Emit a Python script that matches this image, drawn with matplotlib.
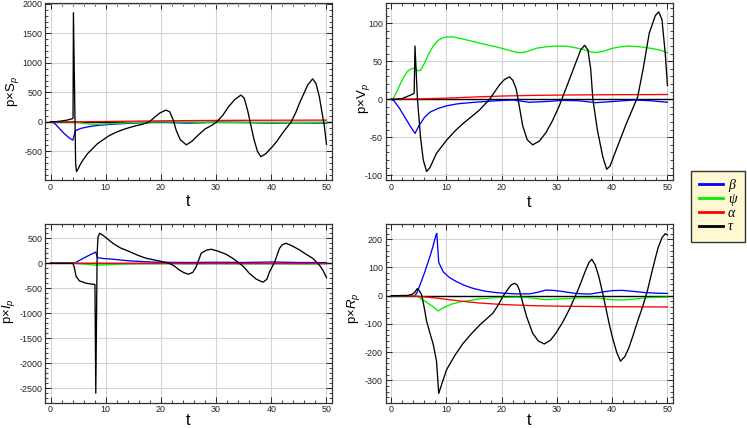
import numpy as np
import matplotlib
matplotlib.use("Agg")
import matplotlib.pyplot as plt
from matplotlib.ticker import MultipleLocator
from matplotlib.lines import Line2D
from matplotlib.font_manager import FontProperties

# ------------------------------------------------------------------
# data, (t, value) pairs
# ------------------------------------------------------------------
# p x S_p
S_BETA = [(0, 0), (0.4, 0), (1.0, -50), (1.6, -110), (2.5, -200), (3.3, -265), (4.04, -310),
          (4.5, -150), (5.5, -110), (7, -80), (9, -55), (12, -35), (16, -15), (20, -5),
          (25, -20), (30, -5), (35, -10), (40, -20), (45, -15), (50, -20)]
S_PSI = [(0, 0), (4.4, 0), (6, -25), (8, -45), (10, -35), (13, -20), (17, -5), (20, 0),
         (25, -5), (30, -8), (40, -12), (50, -10)]
S_ALPHA = [(0, 0), (5, 1), (10, 6), (20, 18), (30, 25), (40, 28), (50, 30)]
S_TAU = [(0, 0), (1, 5), (2, 15), (3, 30), (4.0, 55), (4.08, 65), (4.15, 1850), (4.55, -700),
         (4.7, -842), (5.0, -800), (5.4, -720), (5.9, -644), (6.7, -540), (7.7, -446),
         (8.5, -370), (9.5, -305), (10.6, -235), (11.9, -175), (13, -135), (14.3, -96),
         (15.5, -65), (16.7, -40), (17.9, 0), (19.0, 90), (19.8, 150), (20.9, 200), (21.6, 170),
         (22.2, 40), (22.8, -150), (23.5, -300), (24.6, -390), (25.6, -330), (26.8, -220),
         (28.0, -120), (29.2, -60), (30.1, 0), (31.2, 110), (32.2, 250), (33.4, 380),
         (34.5, 455), (35.1, 400), (35.7, 200), (36.3, -60), (36.9, -310), (37.5, -500),
         (38.1, -590), (39.0, -540), (40.2, -420), (41.0, -330), (42, -195), (43.6, 0),
         (44.4, 150), (45.1, 315), (45.9, 480), (46.6, 625), (47.5, 730), (48.1, 650),
         (48.7, 430), (49.2, 150), (49.6, -60), (50, -380)]

# p x V_p
V_BETA = [(0, 0), (0.5, -2), (1.5, -12), (2.5, -24), (3.5, -36), (4.3, -45), (5, -35),
          (6, -24), (7, -17), (8.5, -12), (10, -8.7), (12, -6), (15, -4), (19, -2), (22, -1),
          (25, -4), (28, -3), (31, -1.5), (34, -2), (37, -4.5), (40, -3), (44, -1), (47, -2),
          (50, -4)]
V_PSI = [(0, 0), (0.3, 0), (1, 10), (1.7, 21), (2.4, 31), (3, 37), (3.6, 40), (4.3, 41),
         (4.8, 37.5), (5.3, 38), (6, 47), (6.8, 60), (7.6, 70), (8.4, 77), (9.2, 80.5),
         (10, 82), (11.2, 82), (12.5, 80), (14.8, 76), (17, 72), (19, 69), (21, 65),
         (22.5, 62), (23.5, 61), (24.5, 62.5), (26.2, 67), (28, 69), (30, 70), (32, 69.5),
         (34.6, 66), (36, 62.5), (37, 61.5), (38.3, 63), (40, 67), (41.5, 69), (43, 70),
         (45, 69), (47, 67), (48.5, 65), (50, 61)]
V_ALPHA = [(0, 0), (5, 0.5), (10, 1.5), (15, 3), (20, 4.2), (25, 5), (30, 5.5), (40, 6),
           (50, 6.2)]
V_TAU = [(0, 0), (1, 0), (2, 1), (3, 4), (4.0, 7), (4.15, 8), (4.3, 70), (4.75, 0),
         (5.3, -50), (5.8, -80), (6.4, -95), (7, -90), (8.2, -71), (10, -54), (11.5, -42),
         (13, -32), (14.5, -23), (16, -14), (17.8, 0), (19.6, 19), (20.5, 26), (21.4, 29.5),
         (22, 25), (22.6, 14), (23.2, -10), (23.8, -35), (24.6, -53), (25.6, -60),
         (26.8, -55), (28, -44), (29.2, -28), (30.4, -9), (31.3, 8), (32.2, 25), (33.4, 48),
         (34.3, 65), (35, 71), (35.6, 65), (36.1, 40), (36.5, 0), (37.3, -40), (38.3, -76),
         (39, -92), (39.6, -88), (40.8, -65), (42.5, -33), (44.6, 3), (45.6, 40), (46.7, 87),
         (47.8, 110), (48.4, 115), (49, 105), (49.6, 60), (50, 18)]

# p x I_p
I_BETA = [(0, 0), (4.3, 0), (5.2, 55), (6.2, 113), (7.1, 165), (8.0, 213), (8.2, 222),
          (8.5, 113), (9.5, 95), (11.3, 80), (14.3, 47), (19, 20), (25, 15), (30, 20),
          (35, 15), (40, 25), (45, 15), (50, 12)]
I_PSI = [(0, 0), (4.3, 0), (6, -15), (8.3, -40), (10, -30), (13, -18), (17, -8), (21, -3),
         (25, -10), (30, -5), (35, -10), (40, -5), (45, -12), (50, -8)]
I_ALPHA = [(0, 0), (10, -2), (20, -5), (30, -6), (50, -7)]
I_TAU = [(0, 0), (4.05, 0), (4.3, -80), (4.65, -267), (5.25, -354), (6.46, -400),
         (7.67, -420), (8.05, -425), (8.2, -2600), (8.45, 200), (8.6, 520), (8.9, 600),
         (9.5, 560), (11.3, 400), (12.6, 310), (14.3, 233), (15.8, 160), (17.3, 100),
         (19.7, 46), (21.5, 0), (22.5, -60), (23.3, -133), (24.2, -190), (25, -220),
         (25.8, -180), (26.4, -67), (26.9, 80), (27.3, 200), (28.2, 260), (29.1, 280),
         (30.4, 240), (31.8, 180), (33, 100), (34.2, 0), (35, -70), (36, -200), (37.3, -320),
         (38.5, -380), (39.2, -320), (39.7, -167), (40.6, 20), (41.1, 180), (41.5, 300),
         (42, 370), (42.7, 400), (43.9, 340), (45.1, 267), (46.3, 180), (47.5, 100),
         (48.7, -33), (49.4, -150), (50, -287)]

# p x R_p
R_BETA = [(0, 0), (4.2, 0), (4.6, 8), (5.2, 38), (6, 80), (7, 138), (7.6, 178), (8.1, 215),
          (8.25, 221), (8.6, 118), (9.4, 85), (10.5, 65), (11.8, 50), (13.2, 37), (14.8, 26),
          (17, 16), (19, 11), (21, 8), (22.6, 6.5), (25, 6.5), (26.5, 12), (28, 20),
          (29.3, 19), (31, 15), (33, 9), (34.6, 6.5), (36, 6), (37, 9), (38.5, 14), (40, 18),
          (41.8, 19), (44, 15), (46, 11), (48, 9), (50, 8)]
R_PSI = [(0, 0), (4.5, 0), (6, -18), (7.5, -38), (8.5, -54), (9.5, -42), (10.9, -30),
         (12.5, -22), (13.9, -18), (16, -11), (19, -7), (22.6, -5), (25, -7), (28, -14),
         (31, -11), (34.6, -7), (37, -8), (40, -14), (42, -15), (44, -12), (46, -7), (50, -5)]
R_ALPHA = [(0, 0), (4, -1), (6, -4), (8, -8), (10, -13), (13, -20), (16, -26), (20, -31),
           (25, -35), (30, -37), (35, -38), (40, -39), (50, -40)]
R_TAU = [(0, 0), (3, 1), (3.8, 5), (4.3, 13), (4.7, 25), (5.0, 20), (5.5, 4), (6, -45),
         (6.4, -90), (7, -132), (7.6, -172), (8.2, -232), (8.4, -290), (8.6, -346),
         (9.2, -310), (10, -263), (11.5, -212), (13, -169), (14.5, -135), (16, -104),
         (17.2, -83), (18.4, -62), (19.3, -35), (20.2, -3), (21, 20), (21.7, 38), (22.3, 44),
         (22.8, 38), (23.2, 20), (23.8, -25), (24.5, -74), (25.6, -133), (26.6, -160),
         (27.7, -171), (28.8, -158), (29.8, -133), (31, -95), (32.2, -50), (33, -15),
         (33.8, 20), (34.5, 55), (35.2, 91), (35.8, 118), (36.3, 129), (36.9, 110),
         (37.6, 66), (38.2, 15), (38.8, -39), (39.4, -95), (40, -145), (40.8, -200),
         (41.5, -232), (42.3, -215), (43, -185), (43.7, -145), (44.6, -90), (45.5, -39),
         (46.4, 20), (47, 70), (47.7, 125), (48.3, 170), (49, 205), (49.6, 220), (50, 215)]

LEGEND_LABELS = ["β", "ψ", "α", "τ"]
COLORS = ["#0000ff", "#00ee00", "#ff0000", "#000000"]

# ------------------------------------------------------------------
plt.rcParams['font.family'] = ['Liberation Sans', 'DejaVu Sans']
plt.rcParams['mathtext.fontset'] = 'custom'
plt.rcParams['mathtext.rm'] = 'Liberation Sans'
plt.rcParams['mathtext.it'] = 'Liberation Sans:italic'
plt.rcParams['axes.unicode_minus'] = False

W, H = 747, 428
fig = plt.figure(figsize=(W / 100, H / 100), dpi=100)


def frac(x0, y0, x1, y1):
    return [x0 / W, 1 - y1 / H, (x1 - x0) / W, (y1 - y0) / H]


panels = [
    dict(rect=frac(45, 3, 332, 180), data=(S_BETA, S_PSI, S_ALPHA, S_TAU),
         ylim=(-985, 2015), major=500, minor=100, label=r'p×$\mathregular{S}_{p}$',
         ylab=(-0.084, 0.5), xlab=-0.08),
    dict(rect=frac(385.7, 2.7, 673, 180.3), data=(V_BETA, V_PSI, V_ALPHA, V_TAU),
         ylim=(-106.6, 127), major=50, minor=10, label=r'p×$\mathregular{V}_{p}$',
         ylab=(-0.048, 0.46), xlab=-0.08),
    dict(rect=frac(45, 224, 332, 402.7), data=(I_BETA, I_PSI, I_ALPHA, I_TAU),
         ylim=(-2790, 785), major=500, minor=100, label=r'p×$I_{p}$',
         ylab=(-0.098, 0.51), xlab=-0.055),
    dict(rect=frac(385.7, 224, 673, 402.7), data=(R_BETA, R_PSI, R_ALPHA, R_TAU),
         ylim=(-379, 254), major=100, minor=20, label=r'p×$R_{p}$',
         ylab=(-0.083, 0.53), xlab=-0.055),
]

for p in panels:
    ax = fig.add_axes(p['rect'])
    ax.set_xlim(-1, 51)
    ax.set_ylim(*p['ylim'])
    ax.grid(True, color='#d4d4d4', lw=0.8)
    ax.set_axisbelow(True)
    ax.axhline(0, color='black', lw=1.0, zorder=1.5)
    for series, c in zip(p['data'], COLORS):
        arr = np.array(series, dtype=float)
        ax.plot(arr[:, 0], arr[:, 1], color=c, lw=0.95, zorder=2)
    ax.xaxis.set_major_locator(MultipleLocator(10))
    ax.xaxis.set_minor_locator(MultipleLocator(2))
    ax.yaxis.set_major_locator(MultipleLocator(p['major']))
    ax.yaxis.set_minor_locator(MultipleLocator(p['minor']))
    ax.tick_params(which='both', direction='in', top=True, right=True,
                   labelsize=6.4, colors='#222222', pad=2)
    ax.tick_params(which='major', length=4, width=0.7)
    ax.tick_params(which='minor', length=2, width=0.6)
    for s in ax.spines.values():
        s.set_color('#333333')
        s.set_linewidth(0.9)
    ax.set_ylabel(p['label'], fontsize=9.5)
    ax.yaxis.set_label_coords(*p['ylab'])
    ax.set_xlabel('t', fontsize=11.5)
    ax.xaxis.set_label_coords(0.5, p['xlab'])

handles = [Line2D([], [], color=c, lw=2) for c in COLORS]
leg = fig.legend(handles, LEGEND_LABELS, loc='upper left',
                 bbox_to_anchor=(691 / W, 1 - 171 / H), borderaxespad=0,
                 prop=FontProperties(family='Liberation Serif', style='italic', size=10),
                 frameon=True, fancybox=False, facecolor='#fff8d2', edgecolor='#333333',
                 framealpha=1, handlelength=1.7, handletextpad=0.35, labelspacing=0.05,
                 borderpad=0.6)
leg.get_frame().set_linewidth(1.0)

fig.savefig('out.png', dpi=100)
